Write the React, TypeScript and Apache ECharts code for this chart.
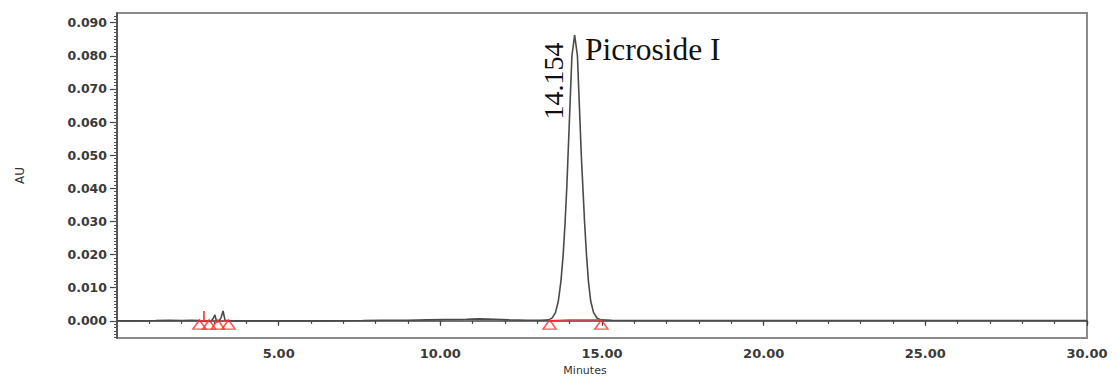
import React, { useEffect, useRef } from "react";
import * as echarts from "echarts";

// Chromatogram trace (minutes, AU)
const traceMinutes = [
  0, 0.6, 1.2, 1.6, 2.0, 2.3, 2.55, 2.75, 2.9, 2.98, 3.03, 3.08, 3.15, 3.22, 3.28, 3.34, 3.45, 3.8,
  5.0, 6.5, 7.6, 8.2, 9.0, 9.6, 10.2, 10.8, 11.2, 11.7, 12.1, 12.7, 13.1,
  13.36, 13.46, 13.56, 13.65, 13.73, 13.8, 13.86, 13.91, 13.95, 13.99, 14.03, 14.07, 14.154,
  14.24, 14.28, 14.32, 14.36, 14.41, 14.46, 14.52, 14.58, 14.65, 14.74, 14.85, 14.97,
  15.3, 16, 20, 25, 30,
];
const traceAU = [
  0.0, 0.0, 0.0001, 0.0002, 0.0001, 0.0002, 0.0001, -0.0001, -0.0002, 0.0008, 0.0018, -0.0003, -0.0001, 0.001, 0.003, 0.0002, 0.0, 0.0,
  0.0, 0.0, 0.0001, 0.0002, 0.0002, 0.0003, 0.0004, 0.0005, 0.0006, 0.0005, 0.0003, 0.0002, 0.0002,
  0.0003, 0.0009, 0.0025, 0.006, 0.012, 0.02, 0.03, 0.04, 0.05, 0.06, 0.07, 0.08, 0.0862,
  0.08, 0.07, 0.06, 0.05, 0.04, 0.03, 0.02, 0.012, 0.006, 0.0025, 0.0008, 0.0003,
  0.0002, 0.0001, 0.0001, 0.0001, 0.0001,
];

// Integration markers (red triangles)
const markerMinutes = [2.55, 2.85, 3.12, 3.45, 13.38, 14.98];
const markerAU = [-0.0011, -0.0011, -0.0011, -0.0011, -0.0011, -0.0011];

// Integration baselines (red)
const mainBaseMinutes = [13.38, 14.0, 14.98];
const mainBaseAU = [0.0001, 0.0003, 0.0003];
const smallBaseMinutes = [2.55, 2.85, 3.12, 3.45];
const smallBaseAU = [0.0, -0.0001, -0.0002, 0.0];
const eventMinutes = [2.69, 2.69];
const eventAU = [-0.0003, 0.003];

// Axis ticks
const yLabelValues = [0, 0.01, 0.02, 0.03, 0.04, 0.05, 0.06, 0.07, 0.08, 0.09];
const xLabelValues = [5, 10, 15, 20, 25, 30];

const peakTime = "14.154";
const peakName = "Picroside I";

export default function App() {
  const ref = useRef<HTMLDivElement>(null);

  useEffect(() => {
    if (!ref.current) return;
    const chart = echarts.init(ref.current, null, { renderer: "svg" });

    const yMinor: number[] = [];
    for (let i = -5; i <= 92; i++) yMinor.push(i / 1000);
    const xMinor: number[] = [];
    for (let i = 1; i <= 30; i++) xMinor.push(i);

    const labelFont = {
      fontFamily: "DejaVu Sans",
      fontWeight: "bold" as const,
      color: "#3a3a3a",
    };

    const yMin = -0.0052;
    const yMax = 0.0929;

    chart.setOption({
      animation: false,
      backgroundColor: "#ffffff",
      grid: {
        left: 117,
        top: 13,
        right: 32,
        bottom: 40,
        show: true,
        borderColor: "#8a8a8a",
        borderWidth: 2,
      },
      xAxis: [
        {
          type: "value",
          min: 0,
          max: 30,
          position: "bottom",
          name: "Minutes",
          nameLocation: "middle",
          nameGap: 25,
          nameTextStyle: {
            fontFamily: "DejaVu Sans",
            fontSize: 11,
            color: "#333",
            padding: [0, 34, 0, 0],
          },
          axisLine: { show: true, lineStyle: { color: "#444", width: 1.5 } },
          axisTick: {
            show: true,
            length: 5,
            customValues: xLabelValues,
            lineStyle: { color: "#444", width: 1.2 },
          },
          axisLabel: {
            show: true,
            customValues: xLabelValues,
            formatter: (v: number) => v.toFixed(2),
            fontSize: 13,
            margin: 9,
            ...labelFont,
          },
          splitLine: { show: false },
        },
        {
          type: "value",
          min: 0,
          max: 30,
          position: "bottom",
          axisLine: { show: false },
          axisTick: {
            show: true,
            length: 3,
            customValues: xMinor,
            lineStyle: { color: "#444", width: 1.2 },
          },
          axisLabel: { show: false },
          splitLine: { show: false },
        },
      ],
      yAxis: [
        {
          type: "value",
          min: yMin,
          max: yMax,
          position: "left",
          name: "AU",
          nameLocation: "middle",
          nameRotate: 90,
          nameGap: 91,
          nameTextStyle: { fontFamily: "DejaVu Sans", fontSize: 12, color: "#333" },
          axisLine: { show: true, lineStyle: { color: "#444", width: 1.5 } },
          axisTick: {
            show: true,
            length: 7,
            customValues: yLabelValues,
            lineStyle: { color: "#444", width: 1.2 },
          },
          axisLabel: {
            show: true,
            customValues: yLabelValues,
            formatter: (v: number) => v.toFixed(3),
            fontSize: 12.5,
            margin: 10,
            ...labelFont,
          },
          splitLine: { show: false },
        },
        {
          type: "value",
          min: yMin,
          max: yMax,
          position: "left",
          axisLine: { show: false },
          axisTick: {
            show: true,
            length: 3,
            customValues: yMinor,
            lineStyle: { color: "#555", width: 1 },
          },
          axisLabel: { show: false },
          splitLine: { show: false },
        },
      ],
      series: [
        {
          type: "line",
          name: "trace",
          data: traceMinutes.map((t, i) => [t, traceAU[i]]),
          showSymbol: false,
          symbol: "none",
          lineStyle: { color: "#4a4a4a", width: 1.6 },
          z: 3,
        },
        {
          type: "line",
          data: mainBaseMinutes.map((t, i) => [t, mainBaseAU[i]]),
          symbol: "none",
          lineStyle: { color: "#ff2a2a", width: 1.2 },
          z: 4,
        },
        {
          type: "line",
          data: smallBaseMinutes.map((t, i) => [t, smallBaseAU[i]]),
          symbol: "none",
          lineStyle: { color: "#ff2a2a", width: 1.2 },
          z: 4,
        },
        {
          type: "line",
          data: eventMinutes.map((t, i) => [t, eventAU[i]]),
          symbol: "none",
          lineStyle: { color: "#ff2a2a", width: 1.6 },
          z: 4,
        },
        {
          type: "scatter",
          data: markerMinutes.map((t, i) => [t, markerAU[i]]),
          symbol: "triangle",
          symbolSize: [13, 9],
          itemStyle: { color: "rgba(255,255,255,0)", borderColor: "#ff2a2a", borderWidth: 1.5 },
          z: 5,
        },
      ],
      graphic: [
        {
          type: "text",
          x: 553,
          y: 81,
          rotation: Math.PI / 2,
          style: {
            text: peakTime,
            fontFamily: "Liberation Serif",
            fontSize: 28,
            fill: "#111",
            align: "center",
            verticalAlign: "middle",
          },
          z: 10,
        },
        {
          type: "text",
          x: 585,
          y: 49,
          style: {
            text: peakName,
            fontFamily: "Liberation Serif",
            fontSize: 31.5,
            fill: "#111",
            align: "left",
            verticalAlign: "middle",
          },
          z: 10,
        },
      ],
    });

    return () => chart.dispose();
  }, []);

  return (
    <div
      ref={ref}
      style={{ position: "fixed", left: 0, top: 0, width: 1119, height: 381, background: "#fff" }}
    />
  );
}
